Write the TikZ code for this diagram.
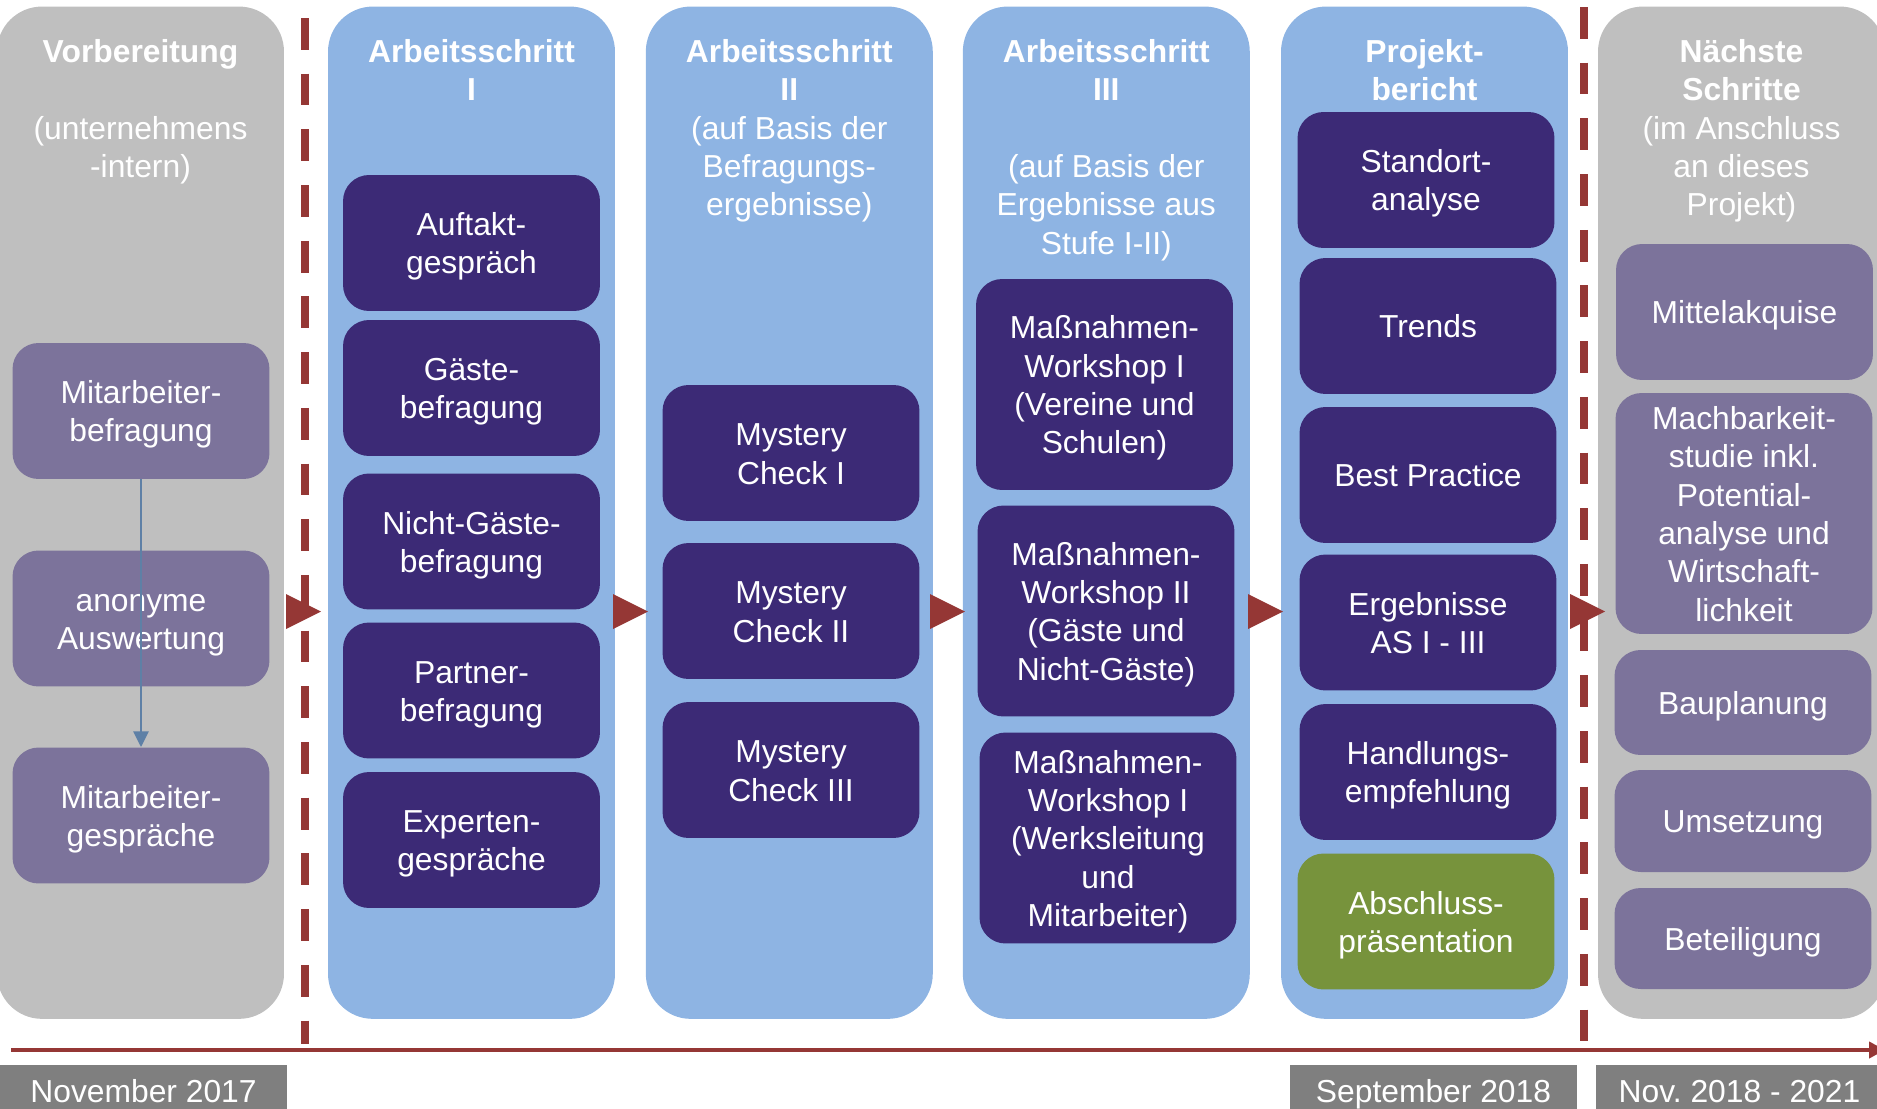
\documentclass[tikz,border=0pt]{standalone}
\usepackage{fontspec}
\setmainfont{Liberation Sans}
\usetikzlibrary{arrows.meta, positioning}

\definecolor{colgray}{HTML}{BFBFBF}
\definecolor{colblue}{HTML}{8EB4E3}
\definecolor{boxdark}{HTML}{3C2A76}
\definecolor{boxlight}{HTML}{7C739B}
\definecolor{boxgreen}{HTML}{77933C}
\definecolor{linered}{HTML}{953735}
\definecolor{dategray}{HTML}{7F7F7F}
\definecolor{arrowblue}{HTML}{5E80A6}

\newcommand{\bodyfont}{\fontsize{18.1pt}{21.8pt}\selectfont}
\newcommand{\txtstrut}{\rule[-0.2em]{0pt}{1.15em}}

\tikzset{
  stagecol/.style={rounded corners=0.9cm, minimum width=5.74cm, minimum height=20.25cm, inner sep=0pt},
  coltitle/.style={anchor=north, align=center, text=white, font=\bodyfont, inner sep=0pt},
  task/.style={rounded corners=0.52cm, minimum width=5.14cm, minimum height=2.72cm, align=center, text=white, font=\bodyfont, inner sep=0pt},
  darktask/.style={task, fill=boxdark},
  lighttask/.style={task, fill=boxlight},
  datelabel/.style={anchor=north, fill=dategray, text=white, font=\bodyfont, minimum width=5.74cm, minimum height=1cm, inner sep=0pt}
}

\begin{document}
\begin{tikzpicture}[x=0.02cm, y=-0.02cm]
    \useasboundingbox (0,0) rectangle (1877,1109);
    \clip (0,0) rectangle (1877,1109);

    % Stage columns
    \node[stagecol, fill=colgray] (colvor) at (140.5,512.7) {};
    \node[stagecol, fill=colblue] (colas1) at (471.5,512.7) {};
    \node[stagecol, fill=colblue] (colas2) at (789.3,512.7) {};
    \node[stagecol, fill=colblue] (colas3) at (1106.3,512.7) {};
    \node[stagecol, fill=colblue] (colpb) at (1424.5,512.7) {};
    \node[stagecol, fill=colgray] (colns) at (1741.5,512.7) {};

    % Dashed separators
    \draw[linered, line width=4.5pt, dash pattern=on 18.1pt off 13.6pt] (305,18) -- (305,1044);
    \draw[linered, line width=4.5pt, dash pattern=on 18.1pt off 13.6pt] (1584,7) -- (1584,1042);

    % Red triangles between stages
    \foreach \tx in {286,613,930,1248,1570}
        \fill[linered] (\tx,594) -- ++(35,17.5) -- ++(-35,17.5) -- cycle;

    % Column titles
    \node[coltitle] (tvor) at (140.5,32) {\txtstrut\textbf{Vorbereitung}\\[21.8pt](unternehmens\\-intern)};
    \node[coltitle] (tas1) at (471.5,32) {\txtstrut\textbf{Arbeitsschritt}\\\textbf{I}};
    \node[coltitle] (tas2) at (789.3,32) {\txtstrut\textbf{Arbeitsschritt}\\\textbf{II}\\(auf Basis der\\Befragungs-\\ergebnisse)};
    \node[coltitle] (tas3) at (1106.3,32) {\txtstrut\textbf{Arbeitsschritt}\\\textbf{III}\\[21.8pt](auf Basis der\\Ergebnisse aus\\Stufe I-II)};
    \node[coltitle] (tpb) at (1424.5,32) {\txtstrut\textbf{Projekt-}\\\textbf{bericht}};
    \node[coltitle] (tns) at (1741.5,32) {\txtstrut\textbf{Nächste}\\\textbf{Schritte}\\(im Anschluss\\an dieses\\Projekt)};

    % Vorbereitung
    \node[lighttask] (mab) at (141,411) {\txtstrut Mitarbeiter-\\befragung\txtstrut};
    \node[lighttask] (anon) at (141,618.5) {\txtstrut anonyme\\Auswertung\txtstrut};
    \node[lighttask] (mag) at (141,815.5) {\txtstrut Mitarbeiter-\\gespräche\txtstrut};

    % Arbeitsschritt I
    \node[darktask] (auftakt) at (471.5,243) {\txtstrut Auftakt-\\gespräch\txtstrut};
    \node[darktask] (gaeste) at (471.5,388) {\txtstrut Gäste-\\befragung\txtstrut};
    \node[darktask] (nichtgaeste) at (471.5,541.5) {\txtstrut Nicht-Gäste-\\befragung\txtstrut};
    \node[darktask] (partner) at (471.5,690.5) {\txtstrut Partner-\\befragung\txtstrut};
    \node[darktask] (experten) at (471.5,840) {\txtstrut Experten-\\gespräche\txtstrut};

    % Arbeitsschritt II
    \node[darktask] (mc1) at (791,453) {\txtstrut Mystery\\Check I\txtstrut};
    \node[darktask] (mc2) at (791,611) {\txtstrut Mystery\\Check II\txtstrut};
    \node[darktask] (mc3) at (791,770) {\txtstrut Mystery\\Check III\txtstrut};

    % Arbeitsschritt III
    \node[darktask, minimum height=4.22cm] (ws1) at (1104.5,384.5) {\txtstrut Maßnahmen-\\Workshop I\\(Vereine und\\Schulen)\txtstrut};
    \node[darktask, minimum height=4.22cm] (ws2) at (1106,611) {\txtstrut Maßnahmen-\\Workshop II\\(Gäste und\\Nicht-Gäste)\txtstrut};
    \node[darktask, minimum height=4.22cm] (ws3) at (1108,838) {\txtstrut Maßnahmen-\\Workshop I\\(Werksleitung\\und\\Mitarbeiter)\txtstrut};

    % Projektbericht
    \node[darktask] (standort) at (1426,180) {\txtstrut Standort-\\analyse\txtstrut};
    \node[darktask] (trends) at (1428,326) {\txtstrut Trends};
    \node[darktask] (best) at (1428,475) {\txtstrut Best Practice};
    \node[darktask] (ergebnisse) at (1428,622.5) {\txtstrut Ergebnisse\\AS I - III\txtstrut};
    \node[darktask] (handlung) at (1428,772) {\txtstrut Handlungs-\\empfehlung\txtstrut};
    \node[task, fill=boxgreen] (abschluss) at (1426,921.5) {\txtstrut Abschluss-\\präsentation\txtstrut};

    % Naechste Schritte
    \node[lighttask] (mittel) at (1744.5,312) {\txtstrut Mittelakquise};
    \node[lighttask, minimum height=4.82cm] (machbar) at (1744,513.5) {\txtstrut Machbarkeit-\\studie inkl.\\Potential-\\analyse und\\Wirtschaft-\\lichkeit\txtstrut};
    \node[lighttask, minimum height=2.1cm] (bau) at (1743,702.5) {\txtstrut Bauplanung};
    \node[lighttask, minimum height=2.04cm] (umsetzung) at (1743,821) {\txtstrut Umsetzung};
    \node[lighttask, minimum height=2.02cm] (beteiligung) at (1743,938.5) {\txtstrut Beteiligung};

    % Arrow inside Vorbereitung
    \draw[arrowblue, line width=1.7pt, -{Triangle[length=9pt, width=8.5pt]}] (mab) -- (mag);

    % Timeline
    \coordinate (tlstart) at (11,1050);
    \coordinate (tlend) at (1885,1050);
    \draw[linered, line width=2.83pt, -{Triangle[length=9pt, width=9pt]}] (tlstart) -- (tlend);

    % Dates
    \node[datelabel] (dnov17) at (143.5,1065) {\txtstrut November 2017};
    \node[datelabel] (dsep18) at (1433.5,1065) {\txtstrut September 2018};
    \node[datelabel] (dnov18) at (1739.5,1065) {\txtstrut Nov.\ 2018 - 2021};
\end{tikzpicture}
\end{document}
